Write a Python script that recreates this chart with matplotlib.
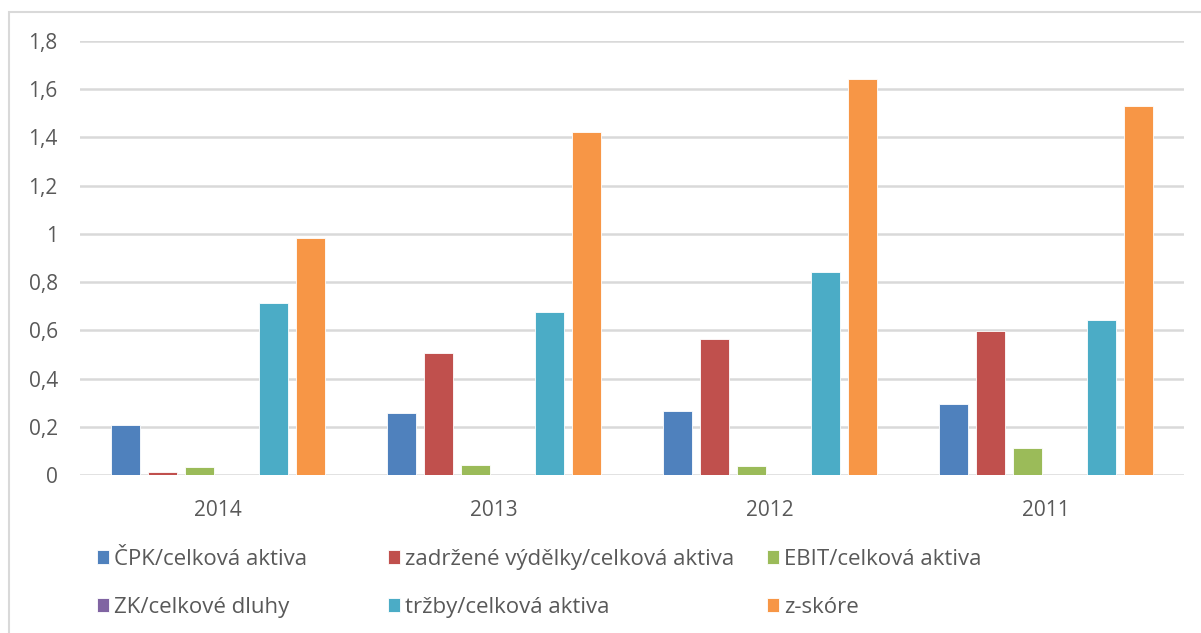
import numpy as np
import matplotlib.pyplot as plt
from matplotlib.patches import Rectangle

plt.rcParams["font.family"] = ["Open Sans", "DejaVu Sans"]

# data
years = ["2014", "2013", "2012", "2011"]
series_names = ["ČPK/celková aktiva", "zadržené výdělky/celková aktiva", "EBIT/celková aktiva",
                "ZK/celkové dluhy", "tržby/celková aktiva", "z-skóre"]
cpk = [0.208, 0.258, 0.266, 0.296]
zadrzene = [0.013, 0.508, 0.564, 0.599]
ebit = [0.034, 0.043, 0.039, 0.110]
zk = [0.0, 0.0, 0.0, 0.0]
trzby = [0.713, 0.674, 0.841, 0.641]
z_skore = [0.982, 1.421, 1.643, 1.531]
colors = ["#4F81BD", "#C0504D", "#9BBB59", "#8064A2", "#4BACC6", "#F79646"]

W, H = 1201, 633
fig = plt.figure(figsize=(W / 100, H / 100), dpi=100)
ax = fig.add_axes([80 / W, (H - 475) / H, (1184 - 80) / W, (475 - 41) / H])

x = np.arange(len(years))
pitch = 0.134
width = 0.105
handles = []
for i, vals in enumerate([cpk, zadrzene, ebit, zk, trzby, z_skore]):
    b = ax.bar(x + (i - 2.5) * pitch, vals, width, color=colors[i],
               edgecolor="white", linewidth=0.6, label=series_names[i], zorder=3)
    handles.append(b)

ax.set_xlim(-0.5, len(years) - 0.5)
ax.set_ylim(0, 1.8)
yt = np.arange(0, 1.81, 0.2)
ax.set_yticks(yt)
ax.set_yticklabels([("%g" % round(v, 1)).replace(".", ",") for v in yt])
ax.set_xticks(x)
ax.set_xticklabels(years)
ax.tick_params(axis="both", length=0, labelsize=15, labelcolor="#595959")
ax.tick_params(axis="y", pad=16)
ax.tick_params(axis="x", pad=18)
ax.grid(axis="y", color="#d9d9d9", linewidth=1.8, zorder=0)
for s in ax.spines.values():
    s.set_visible(False)

# chart frame (cut off at right and bottom)
fig.patches.append(Rectangle((9 / W, -0.05), 1.2, (H - 12) / H + 0.05, transform=fig.transFigure,
                             fill=False, edgecolor="#d9d9d9", linewidth=1.5))

# legend in three columns, two rows
cols = [(0, 3), (1, 4), (2, 5)]
col_x = [97, 388, 767]
for (a, b), cx in zip(cols, col_x):
    leg = fig.legend([handles[a], handles[b]], [series_names[a], series_names[b]],
                     loc="upper left", bbox_to_anchor=(cx / W, (H - 549) / H),
                     frameon=False, fontsize=16, handlelength=0.55, handleheight=0.55,
                     handletextpad=0.2, labelspacing=1.2, borderaxespad=0, borderpad=0)
    for t in leg.get_texts():
        t.set_color("#595959")

fig.savefig("out.png", dpi=100)
